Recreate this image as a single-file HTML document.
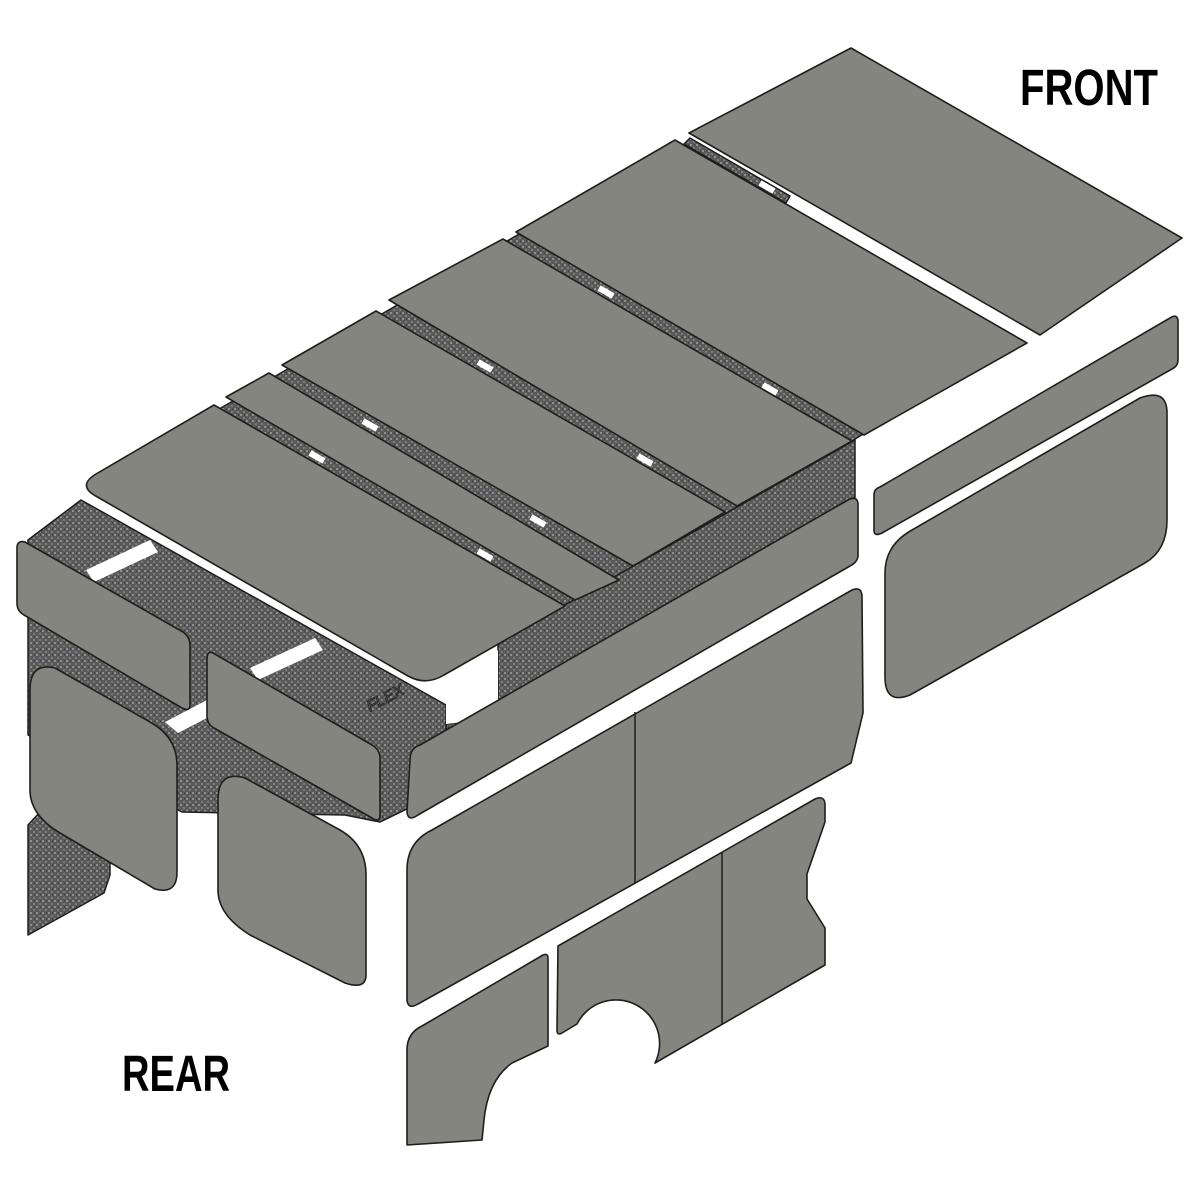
<!DOCTYPE html>
<html><head><meta charset="utf-8"><style>html,body{margin:0;padding:0;background:#fff}svg{display:block}</style></head>
<body>
<svg width="1200" height="1200" viewBox="0 0 1200 1200" xmlns="http://www.w3.org/2000/svg">
<defs>
<pattern id="hc" width="6" height="6" patternUnits="userSpaceOnUse">
<rect width="6" height="6" fill="#5a5a5a"/>
<rect x="0" y="0" width="2" height="2" fill="#8e8e8e"/>
<rect x="3" y="3" width="2" height="2" fill="#7c7c7c"/>
<rect x="4" y="0" width="1" height="2" fill="#444"/>
</pattern>
</defs>
<g stroke="#1e1e1e" stroke-width="1.5" stroke-linejoin="round">
<polygon fill="url(#hc)" points="214,412 675,143 1020,343 860,436 852,441 565,606"/>
<polygon fill="url(#hc)" points="690,138 790,196 786,203 684,144"/>
<polygon fill="url(#hc)" points="28,540 81,500 446,705 446,790 380,822 345,815 182,812 28,735"/>
<polygon fill="url(#hc)" points="498,643 855,440 855,500 446,735 446,724 498,718"/>
<polygon fill="url(#hc)" points="28,825 40,812 110,852 110,875 104,893 28,935"/>
</g>
<g fill="#fff">
<polygon points="86,570 150,540 158,552 94,582"/>
<polygon points="250,668 315,638 323,650 258,680"/>
<polygon points="165,722 207,700 207,718 178,733"/>
<polygon points="436,686 498,650 498,718 446,724 446,700"/>
</g>
<g stroke="#fff" stroke-width="6">
<line x1="599" y1="288" x2="613" y2="296"/>
<line x1="763" y1="385" x2="777" y2="393"/>
<line x1="478" y1="362" x2="492" y2="370"/>
<line x1="638" y1="456" x2="652" y2="464"/>
<line x1="363" y1="421" x2="377" y2="429"/>
<line x1="531" y1="517" x2="545" y2="525"/>
<line x1="310" y1="453" x2="324" y2="461"/>
<line x1="478" y1="551" x2="492" y2="559"/>
<line x1="760" y1="183" x2="774" y2="191"/>
</g>
<g fill="#858580" stroke="#1e1e1e" stroke-width="1.6" stroke-linejoin="round">
<polygon points="689,133 851,48 1182,238 1040,335"/>
<polygon points="675,140 1027,343 864,435 516,232"/>
<polygon points="503,239 852,441 737,506 389,300"/>
<polygon points="376,311 725,512 633,566 282,365"/>
<polygon points="269,373 619,580 575,600 226,397"/>
<path d="M214,405 L565,606 L444,675 Q426,686 408,676 L94,495 Q78,485 96,474 Z"/>
<path d="M25,542 L183,632 Q190,637 190,645 L190,705 Q190,712 182,708 L24,615 Q17,611 17,603 L17,548 Q17,540 25,542 Z"/>
<path d="M213,653 L372,745 Q380,750 380,758 L380,815 Q380,823 372,818 L214,728 Q207,724 207,716 L207,660 Q207,650 213,653 Z"/>
<path d="M30,690 Q30,662 55,668 L150,722 Q177,737 177,765 L177,872 Q177,895 155,889 L60,833 Q30,815 30,790 Z"/>
<path d="M218,800 Q218,770 245,778 L340,830 Q366,845 366,875 L366,975 Q366,990 345,983 L250,935 Q218,915 218,890 Z"/>
<path d="M410,760 Q410,748 420,745 L848,500 Q858,495 858,505 L858,555 Q858,562 850,566 L418,815 Q408,822 407,812 Z"/>
<path d="M407,1000 L407,870 Q407,842 432,830 L852,590 Q862,586 862,597 L863,713 L851,763 L418,1004 Q408,1010 407,1000 Z"/>
<path d="M407,1145 L407,1050 Q407,1033 422,1026 L543,955 Q548,953 548,958 L548,1046 L512,1063 Q488,1080 484,1120 L482,1140 Z"/>
<path d="M558,946 L815,799 Q825,795 825,805 L825,822 L807,874 L807,899 L825,928 L825,965 L655,1063 A42,42 0 0 0 577,1024 L562,1033 Q557,1036 557,1030 Z"/>
<path d="M880,487 L1170,318 Q1178,313 1178,322 L1178,360 Q1178,366 1172,369 L882,533 Q874,537 874,530 L874,495 Q874,489 880,487 Z"/>
<path d="M885,573 Q885,545 912,530 L1140,398 Q1167,388 1167,413 L1167,520 Q1167,550 1145,563 L910,695 Q885,705 885,677 Z"/>
</g>
<g stroke="#1e1e1e" stroke-width="1.5">
<line x1="635" y1="712" x2="635" y2="883"/>
<line x1="722" y1="853" x2="722" y2="1024"/>
</g>
<text x="370" y="712" font-family="Liberation Sans, sans-serif" font-size="16" font-style="italic" fill="none" stroke="#222" stroke-width="0.8" transform="rotate(-28 370 712)">FLEX</text>
<text x="1020" y="105" font-family="Liberation Sans, sans-serif" font-weight="bold" font-size="51" fill="#000" textLength="138" lengthAdjust="spacingAndGlyphs">FRONT</text>
<text x="122" y="1091" font-family="Liberation Sans, sans-serif" font-weight="bold" font-size="51" fill="#000" textLength="108" lengthAdjust="spacingAndGlyphs">REAR</text>
</svg>
</body></html>
